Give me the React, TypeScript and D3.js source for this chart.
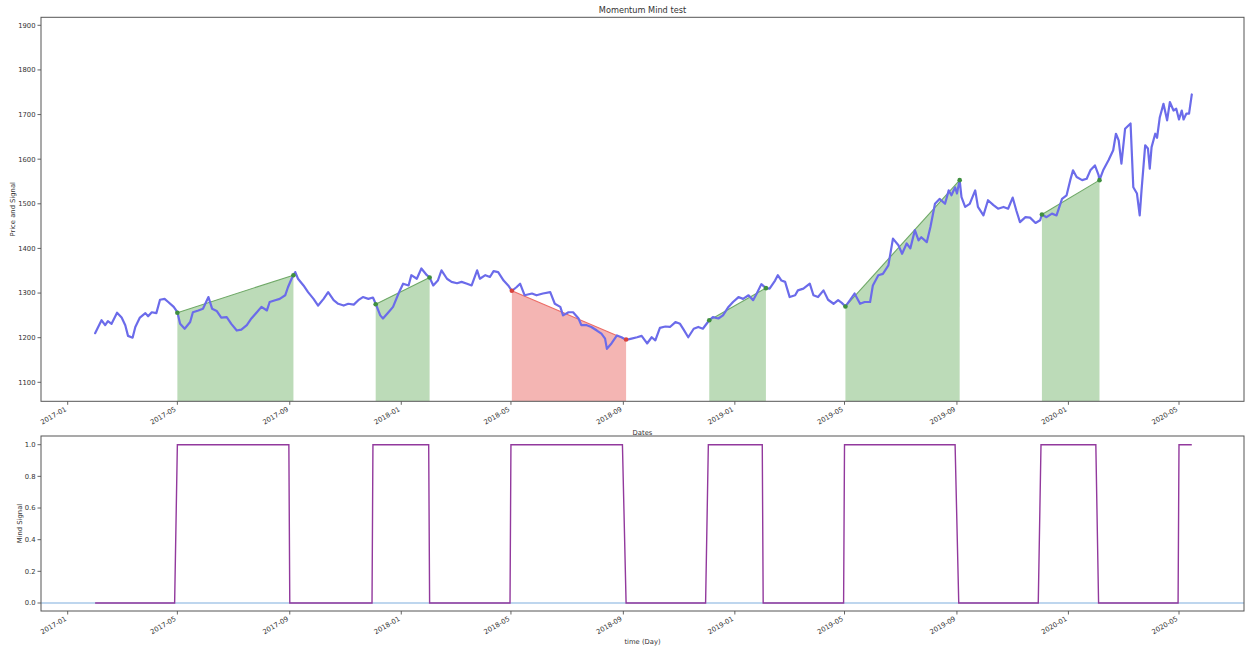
import React from "react";
import * as d3 from "d3";

// ---------- data ----------
const priceDates = [
  "2017-01-31","2017-02-07","2017-02-11","2017-02-14","2017-02-18","2017-02-24","2017-03-01","2017-03-05","2017-03-08","2017-03-13",
  "2017-03-16","2017-03-21","2017-03-27","2017-03-30","2017-04-03","2017-04-08","2017-04-12","2017-04-17","2017-04-21","2017-04-27",
  "2017-05-01","2017-05-04","2017-05-09","2017-05-15","2017-05-18","2017-05-24","2017-05-29","2017-06-04","2017-06-08","2017-06-13",
  "2017-06-18","2017-06-24","2017-06-29","2017-07-05","2017-07-10","2017-07-16","2017-07-21","2017-07-27","2017-08-01","2017-08-07",
  "2017-08-10","2017-08-16","2017-08-21","2017-08-27","2017-08-30","2017-09-03","2017-09-07","2017-09-10","2017-09-16","2017-09-21",
  "2017-09-27","2017-10-02","2017-10-08","2017-10-13","2017-10-19","2017-10-24","2017-10-30","2017-11-04","2017-11-10","2017-11-15",
  "2017-11-20","2017-11-26","2017-12-01","2017-12-04","2017-12-09","2017-12-12","2017-12-18","2017-12-23","2017-12-29","2018-01-03",
  "2018-01-09","2018-01-12","2018-01-18","2018-01-23","2018-01-29","2018-02-01","2018-02-05","2018-02-10","2018-02-14","2018-02-20",
  "2018-02-25","2018-03-03","2018-03-08","2018-03-14","2018-03-19","2018-03-25","2018-03-28","2018-04-03","2018-04-08","2018-04-12",
  "2018-04-17","2018-04-23","2018-04-28","2018-05-02","2018-05-07","2018-05-11","2018-05-16","2018-05-24","2018-05-29","2018-06-05",
  "2018-06-13","2018-06-18","2018-06-24","2018-06-27","2018-07-03","2018-07-08","2018-07-14","2018-07-17","2018-07-23","2018-07-28",
  "2018-08-03","2018-08-08","2018-08-12","2018-08-14","2018-08-19","2018-08-25","2018-08-30","2018-09-04","2018-09-10","2018-09-16",
  "2018-09-21","2018-09-27","2018-10-02","2018-10-06","2018-10-11","2018-10-17","2018-10-22","2018-10-28","2018-11-02","2018-11-06",
  "2018-11-11","2018-11-17","2018-11-22","2018-11-27","2018-12-04","2018-12-08","2018-12-14","2018-12-19","2018-12-25","2018-12-30",
  "2019-01-05","2019-01-10","2019-01-16","2019-01-21","2019-01-25","2019-01-30","2019-02-04","2019-02-08","2019-02-14","2019-02-17",
  "2019-02-21","2019-02-25","2019-03-02","2019-03-08","2019-03-11","2019-03-17","2019-03-24","2019-03-28","2019-04-02","2019-04-08",
  "2019-04-13","2019-04-19","2019-04-24","2019-04-28","2019-05-02","2019-05-07","2019-05-12","2019-05-18","2019-05-23","2019-05-29",
  "2019-06-01","2019-06-07","2019-06-12","2019-06-18","2019-06-23","2019-06-29","2019-07-03","2019-07-08","2019-07-12","2019-07-17",
  "2019-07-21","2019-07-24","2019-07-30","2019-08-03","2019-08-08","2019-08-13","2019-08-19","2019-08-23","2019-08-26","2019-08-30",
  "2019-09-01","2019-09-04","2019-09-06","2019-09-10","2019-09-15","2019-09-21","2019-09-24","2019-09-30","2019-10-05","2019-10-11",
  "2019-10-16","2019-10-22","2019-10-27","2019-11-01","2019-11-05","2019-11-09","2019-11-15","2019-11-20","2019-11-26","2019-12-01",
  "2019-12-03","2019-12-08","2019-12-14","2019-12-19","2019-12-25","2019-12-30","2020-01-03","2020-01-06","2020-01-10","2020-01-16",
  "2020-01-21","2020-01-25","2020-01-30","2020-02-03","2020-02-04","2020-02-08","2020-02-14","2020-02-19","2020-02-22","2020-02-25",
  "2020-02-28","2020-03-03","2020-03-09","2020-03-12","2020-03-16","2020-03-19","2020-03-21","2020-03-25","2020-03-28","2020-03-30",
  "2020-04-01","2020-04-05","2020-04-07","2020-04-10","2020-04-14","2020-04-18","2020-04-21","2020-04-25","2020-04-28","2020-05-01",
  "2020-05-04","2020-05-06","2020-05-09","2020-05-12","2020-05-15",
];
const priceValues = [
  1210,1239,1228,1237,1231,1256,1245,1228,1204,1200,
  1224,1245,1255,1248,1257,1255,1285,1287,1280,1269,
  1257,1231,1220,1235,1257,1261,1265,1291,1265,1260,
  1245,1246,1231,1216,1218,1228,1243,1257,1269,1261,
  1280,1284,1287,1295,1313,1332,1347,1332,1317,1302,
  1287,1272,1287,1302,1284,1276,1272,1276,1274,1284,
  1291,1287,1290,1276,1250,1243,1257,1269,1299,1321,
  1317,1340,1332,1355,1340,1335,1317,1328,1351,1332,
  1325,1322,1325,1321,1317,1351,1332,1340,1336,1349,
  1347,1328,1317,1305,1313,1321,1295,1299,1295,1299,
  1302,1276,1269,1250,1257,1257,1243,1228,1228,1224,
  1216,1209,1198,1175,1187,1205,1201,1195,1198,1201,
  1204,1187,1201,1194,1222,1225,1224,1235,1231,1218,
  1201,1220,1224,1220,1239,1246,1243,1250,1269,1280,
  1291,1287,1295,1284,1299,1320,1311,1310,1328,1340,
  1328,1325,1291,1295,1306,1310,1321,1295,1291,1306,
  1285,1276,1284,1278,1270,1284,1299,1276,1280,1280,
  1317,1340,1343,1362,1422,1407,1388,1411,1400,1441,
  1418,1425,1414,1448,1500,1511,1500,1530,1519,1537,
  1523,1553,1515,1493,1500,1530,1493,1474,1508,1497,
  1489,1493,1489,1514,1485,1459,1470,1469,1457,1463,
  1476,1470,1478,1474,1511,1519,1553,1575,1560,1553,
  1556,1575,1586,1564,1553,1575,1598,1620,1657,1642,
  1590,1668,1680,1537,1523,1474,1530,1631,1624,1579,
  1627,1657,1648,1694,1724,1687,1728,1709,1713,1689,
  1709,1689,1702,1702,1745,
];

const trendStartDates = ["2017-05-01","2017-12-04","2018-05-02","2018-12-04","2019-05-02","2019-12-03"];
const trendEndDates = ["2017-09-05","2018-02-01","2018-09-04","2019-02-04","2019-09-04","2020-02-04"];
const trendStartValues = [1256, 1275, 1305, 1239, 1270, 1476];
const trendEndValues = [1340, 1335, 1196, 1311, 1553, 1553];
const trendDirections = ["up", "up", "down", "up", "up", "up"];

const signalDates = [
  "2017-01-31","2017-04-28","2017-05-01","2017-08-31","2017-09-01","2017-11-30","2017-12-01",
  "2018-01-31","2018-02-01","2018-04-30","2018-05-01","2018-08-31","2018-09-04","2018-11-30","2018-12-03",
  "2019-01-31","2019-02-01","2019-04-30","2019-05-01","2019-08-30","2019-09-03","2019-11-29","2019-12-02",
  "2020-01-31","2020-02-03","2020-04-30","2020-05-01","2020-05-15",
];
const signalValues = [
  0,0,1,1,0,0,1,
  1,0,0,1,1,0,0,1,
  1,0,0,1,1,0,0,1,
  1,0,0,1,1,
];

const priceTicks = [1100, 1200, 1300, 1400, 1500, 1600, 1700, 1800, 1900];
const signalTicks = [0, 0.2, 0.4, 0.6, 0.8, 1.0];
const dateTicks = ["2017-01-01","2017-05-01","2017-09-01","2018-01-01","2018-05-01","2018-09-01",
  "2019-01-01","2019-05-01","2019-09-01","2020-01-01","2020-05-01"];
const dateTickLabels = ["2017-01","2017-05","2017-09","2018-01","2018-05","2018-09",
  "2019-01","2019-05","2019-09","2020-01","2020-05"];

// ---------- layout ----------
const W = 1246, H = 646;
const L = 41, R = 1244;
const T1 = 17.3, B1 = 401.3;
const T2 = 436, B2 = 611;
const FONT = "'DejaVu Sans', sans-serif";
const TXT = "#333";
const AX = "#555";

const parse = d3.utcParse("%Y-%m-%d");

export default function App() {
  const x = d3.scaleUtc()
    .domain([parse("2017-01-01")!, parse("2020-05-01")!])
    .range([67.7, 1179]);
  const y1 = d3.scaleLinear().domain([1100, 1900]).range([382.3, 25.3]);
  const y2 = d3.scaleLinear().domain([0, 1]).range([603, 444.7]);

  const price = priceDates.map((d, i) => ({ date: parse(d)!, value: priceValues[i] }));
  const signal = signalDates.map((d, i) => ({ date: parse(d)!, value: signalValues[i] }));

  const priceLine = d3.line<{ date: Date; value: number }>()
    .x(d => x(d.date)).y(d => y1(d.value)).curve(d3.curveLinear);
  const signalLine = d3.line<{ date: Date; value: number }>()
    .x(d => x(d.date)).y(d => y2(d.value));

  const trendArea = d3.area<{ date: Date; value: number }>()
    .x(d => x(d.date)).y0(B1).y1(d => y1(d.value));
  const trendLine = d3.line<{ date: Date; value: number }>()
    .x(d => x(d.date)).y(d => y1(d.value));

  const trends = trendStartDates.map((s, i) => ({
    pts: [
      { date: parse(s)!, value: trendStartValues[i] },
      { date: parse(trendEndDates[i])!, value: trendEndValues[i] },
    ],
    up: trendDirections[i] === "up",
  }));

  const xAxis = (top: number, bottom: number) => (
    <g>
      {dateTicks.map((t, i) => {
        const tx = x(parse(t)!);
        return (
          <g key={t}>
            <line x1={tx} x2={tx} y1={bottom} y2={bottom + 3.5} stroke={AX} strokeWidth={0.9} />
            <text
              transform={`translate(${tx - 0.8},${bottom + 9.2}) rotate(-30)`}
              textAnchor="end"
              fontSize={6.8}
              fontFamily={FONT}
              fill={TXT}
            >
              {dateTickLabels[i]}
            </text>
          </g>
        );
      })}
    </g>
  );

  return (
    <svg
      width={W}
      height={H}
      style={{ position: "absolute", left: 0, top: 0, display: "block", background: "#fff" }}
    >
      <defs>
        <clipPath id="clip1">
          <rect x={L} y={T1} width={R - L} height={B1 - T1} />
        </clipPath>
        <clipPath id="clip2">
          <rect x={L} y={T2} width={R - L} height={B2 - T2} />
        </clipPath>
      </defs>

      {/* title */}
      <text x={(L + R) / 2} y={12.5} textAnchor="middle" fontSize={8.2} fontFamily={FONT} fill={TXT}>
        Momentum Mind test
      </text>

      {/* ---------- top panel ---------- */}
      <g clipPath="url(#clip1)">
        {trends.map((t, i) => (
          <path key={"a" + i} d={trendArea(t.pts)!} fill={t.up ? "#bcdbb8" : "#f4b5b3"} />
        ))}
        {trends.map((t, i) => (
          <path key={"l" + i} d={trendLine(t.pts)!} fill="none"
            stroke={t.up ? "#6ea866" : "#ec6c66"} strokeWidth={1.1} />
        ))}
        <path d={priceLine(price)!} fill="none" stroke="#6b6bea" strokeWidth={2.2}
          strokeLinejoin="round" strokeLinecap="round" />
        {trends.map((t, i) =>
          t.pts.map((p, j) => (
            <circle key={"c" + i + "-" + j} cx={x(p.date)} cy={y1(p.value)} r={2.3}
              fill={t.up ? "#3f8f3f" : "#d8433d"} />
          ))
        )}
      </g>
      <rect x={L} y={T1} width={R - L} height={B1 - T1} fill="none" stroke={AX} strokeWidth={1} />
      {priceTicks.map(t => (
        <g key={t}>
          <line x1={L - 3.5} x2={L} y1={y1(t)} y2={y1(t)} stroke={AX} strokeWidth={0.9} />
          <text x={L - 5.5} y={y1(t)} dy="0.35em" textAnchor="end" fontSize={6.8} fontFamily={FONT} fill={TXT}>
            {t}
          </text>
        </g>
      ))}
      {xAxis(T1, B1)}
      <text x={(L + R) / 2} y={434.5} textAnchor="middle" fontSize={6.8} fontFamily={FONT} fill={TXT}>
        Dates
      </text>
      <text transform={`translate(14.5,${(T1 + B1) / 2}) rotate(-90)`} textAnchor="middle"
        fontSize={6.8} fontFamily={FONT} fill={TXT}>
        Price and Signal
      </text>

      {/* ---------- bottom panel ---------- */}
      <g clipPath="url(#clip2)">
        <line x1={L} x2={R} y1={y2(0)} y2={y2(0)} stroke="#a9c9e8" strokeWidth={1.3} />
        <path d={signalLine(signal)!} fill="none" stroke="#92399d" strokeWidth={1.4} />
      </g>
      <rect x={L} y={T2} width={R - L} height={B2 - T2} fill="none" stroke={AX} strokeWidth={1} />
      {signalTicks.map(t => (
        <g key={t}>
          <line x1={L - 3.5} x2={L} y1={y2(t)} y2={y2(t)} stroke={AX} strokeWidth={0.9} />
          <text x={L - 5.5} y={y2(t)} dy="0.35em" textAnchor="end" fontSize={6.8} fontFamily={FONT} fill={TXT}>
            {t.toFixed(1)}
          </text>
        </g>
      ))}
      {xAxis(T2, B2)}
      <text x={(L + R) / 2} y={644} textAnchor="middle" fontSize={6.8} fontFamily={FONT} fill={TXT}>
        time (Day)
      </text>
      <text transform={`translate(21.5,${(T2 + B2) / 2}) rotate(-90)`} textAnchor="middle"
        fontSize={6.8} fontFamily={FONT} fill={TXT}>
        Mind Signal
      </text>
    </svg>
  );
}
